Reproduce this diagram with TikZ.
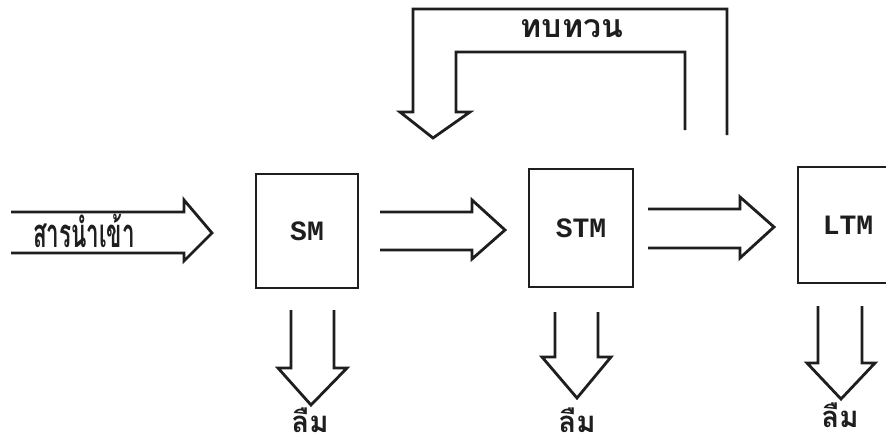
\documentclass[tikz,border=0pt]{standalone}
\usepackage{graphicx}
\usepackage{fontspec}
\newfontfamily\thaifont[Script=Thai]{Loma}
\newfontfamily\boxfont{Liberation Mono}
\definecolor{ink}{RGB}{30,30,30}
\begin{document}
\begin{tikzpicture}[x=0.75pt,y=-0.75pt,
  outline/.style={draw=ink,line width=2.1pt,line join=miter,line cap=butt},
  store/.style={draw=ink,line width=2.1pt,rectangle,inner sep=0pt,
    font=\boxfont\bfseries\fontsize{21}{21}\selectfont,text=ink},
  thailabel/.style={font=\thaifont\bfseries\fontsize{24}{26}\selectfont,text=ink,inner sep=0pt},
  thaibold/.style={font=\thaifont\bfseries\fontsize{22}{24}\selectfont,text=ink,inner sep=0pt}]
\useasboundingbox (0,0) rectangle (886,446);
\clip (0,0) rectangle (886,446);
\fill[white] (0,0) rectangle (886,446);

% memory stores
\node[store,minimum width=76.5pt,minimum height=85.5pt] (sm)  at (307,231) {SM};
\node[store,minimum width=78pt,minimum height=88.5pt]   (stm) at (581,228) {STM};
\node[store,minimum width=75pt,minimum height=87pt]     (ltm) at (848,225) {LTM};

% input block arrow
\draw[outline] (11,212) -- (184,212) -- (184,200) -- (212,233) -- (184,261) -- (184,253) -- (11,253);
\node[thailabel] (input) at (84,231) {\scalebox{0.7}[1.25]{สารนำเข้า}};

% SM -> STM
\draw[outline] (380,212) -- (472,212) -- (472,200) -- (505,230) -- (472,259) -- (472,250) -- (380,250);
% STM -> LTM
\draw[outline] (648,209) -- (740,209) -- (740,197) -- (774,227) -- (740,258) -- (740,248) -- (648,248);

% rehearsal loop back into SM -> STM
\draw[outline] (727,135) -- (727,9) -- (413,9) -- (413,112) -- (400,112) -- (433,138)
  -- (470,112) -- (456,112) -- (456,52) -- (685,52) -- (685,130);
\node[thaibold,font=\thaifont\bfseries\fontsize{24}{26}\selectfont] (rehearse) at (572,29) {ทบทวน};

% forgetting arrows
\draw[outline] (291,310) -- (291,368) -- (278,368) -- (311,405) -- (347,368) -- (334,368) -- (334,310);
\draw[outline] (555,312) -- (555,357) -- (542,357) -- (577,398) -- (611,357) -- (598,357) -- (598,312);
\draw[outline] (818,306) -- (818,363) -- (807,363) -- (841,399) -- (875,363) -- (862,363) -- (862,306);

\node[thaibold] (f1) at (310,420) {ลืม};
\node[thaibold] (f2) at (577,420) {ลืม};
\node[thaibold] (f3) at (840,415) {ลืม};
\end{tikzpicture}
\end{document}
